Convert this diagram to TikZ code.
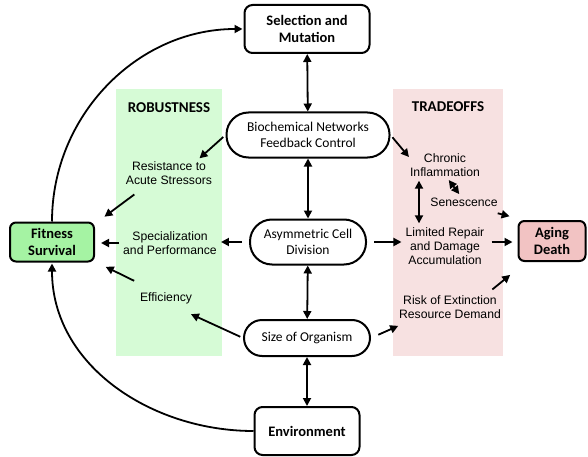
\documentclass[tikz,border=0pt]{standalone}
\usepackage{fontspec}
\setmainfont{Carlito}
\newfontfamily\arialfont{Liberation Sans}
\usetikzlibrary{arrows.meta}
\definecolor{fitgreen}{HTML}{A5F3A3}
\definecolor{agepink}{HTML}{F2C3C3}
\definecolor{bandgreen}{HTML}{D6FBD6}
\definecolor{bandpink}{HTML}{F7E1E1}

\begin{document}
\begin{tikzpicture}[x=1pt,y=1pt]
    % Define style for the boxes, pills and labels
    \tikzstyle{box} = [rectangle, rounded corners=8pt, draw=black, line width=2pt, fill=white, align=center, font=\fontsize{14.5}{17}\selectfont\bfseries]
    \tikzstyle{pill} = [rectangle, rounded corners=22pt, draw=black, line width=2pt, fill=white, align=center, font=\fontsize{13.5}{16}\selectfont]
    \tikzstyle{lbl} = [align=center, inner sep=1pt, font=\arialfont\fontsize{12.2}{14}\selectfont]
    \tikzstyle{title} = [font=\fontsize{15}{18}\selectfont\bfseries]
    \tikzstyle{arr} = [-{Triangle[length=8pt,width=8pt]}, line width=1.8pt, shorten <=3pt, shorten >=3pt]
    \tikzstyle{dbl} = [{Triangle[length=8pt,width=8pt]}-{Triangle[length=8pt,width=8pt]}, line width=1.8pt]

    \useasboundingbox (0,0) rectangle (588,456);

    % Draw the two bands
    \fill[bandgreen] (116,100) rectangle (222,367);
    \fill[bandpink] (393,100) rectangle (503,367);
    \node[title] (robust) at (169,348) {ROBUSTNESS};
    \node[title] (trade) at (448,349) {TRADEOFFS};

    % Draw the boxes
    \node[box, minimum width=125pt, minimum height=48pt] (sel) at (307,427) {Selection and\\Mutation};
    \node[box, minimum width=105pt, minimum height=48pt] (env) at (307,25) {Environment};
    \node[box, rounded corners=6pt, fill=fitgreen, minimum width=84pt, minimum height=39pt] (fit) at (52,214) {Fitness\\Survival};
    \node[box, rounded corners=6pt, fill=agepink, minimum width=67pt, minimum height=40pt] (aging) at (552,215) {Aging\\Death};

    % Draw the pills
    \node[pill, minimum width=163pt, minimum height=45pt] (bio) at (308,321) {Biochemical Networks\\Feedback Control};
    \node[pill, minimum width=116pt, minimum height=45pt] (asym) at (308,214) {Asymmetric Cell\\Division};
    \node[pill, rounded corners=18pt, minimum width=126pt, minimum height=36pt] (size) at (307,118) {Size of Organism};

    % Draw the labels
    \node[lbl] (resist) at (169,283) {Resistance to\\Acute Stressors};
    \node[lbl] (spec) at (170,213) {Specialization\\and Performance};
    \node[lbl] (eff) at (166,158) {Efficiency};
    \node[lbl] (chronic) at (445,291) {Chronic\\Inflammation};
    \node[lbl] (senes) at (464,254) {Senescence};
    \node[lbl] (limited) at (445,210) {Limited Repair\\and Damage\\Accumulation};
    \node[lbl] (risk) at (450,149) {Risk of Extinction\\Resource Demand};

    % Draw the vertical arrows
    \draw[dbl] (sel) -- (bio);
    \draw[dbl] (bio) -- (asym);
    \draw[dbl] (asym) -- (size);
    \draw[dbl] (size) -- (env);

    % Draw the arrows into robustness
    \draw[arr] (bio.west) -- ([xshift=-16pt]resist.north east);
    \draw[arr] ([shift={(12pt,-7pt)}]resist.south west) -- ([shift={(7pt,3pt)}]fit.north east);
    \draw[arr, shorten <=7pt] (asym.west) -- (asym.west -| spec.east);
    \draw[arr, shorten >=6pt] (spec.west) -- (spec.west -| fit.east);
    \draw[arr] (size.west) -- ([shift={(-5pt,-8pt)}]eff.south east);
    \draw[arr] ([shift={(-2pt,9pt)}]eff.north west) -- ([shift={(8pt,-3pt)}]fit.south east);

    % Draw the arrows into tradeoffs
    \draw[arr] (bio.east) -- ([shift={(2pt,-7pt)}]chronic.north west);
    \draw[dbl, shorten <=3pt, shorten >=3pt] ([xshift=2pt]chronic.south) -- ([xshift=-3pt]senes.north);
    \draw[dbl, shorten <=3pt, shorten >=3pt] ([xshift=-26pt]chronic.south) -- ([xshift=-26pt]limited.north);
    \draw[arr] ([shift={(-4pt,-5pt)}]senes.south east) -- ([shift={(-5pt,3pt)}]aging.north west);
    \draw[arr, shorten <=7pt] (asym.east) -- (asym.east -| limited.west);
    \draw[arr, shorten <=6pt, shorten >=5pt] (limited.east |- asym.east) -- (asym.east -| aging.west);
    \draw[arr, shorten <=8pt] (size.east) -- ([shift={(3pt,-5pt)}]risk.south west);
    \draw[arr] ([shift={(-12pt,3pt)}]risk.north east) -- ([shift={(-5pt,-11pt)}]aging.south west);

    % Draw the outer curves
    \draw[arr, shorten <=0pt, shorten >=1pt] (fit.north) to[out=90, in=180] (sel.west);
    \draw[arr, shorten <=0pt, shorten >=1pt] (env.west) to[out=180, in=-90] (fit.south);
\end{tikzpicture}
\end{document}
